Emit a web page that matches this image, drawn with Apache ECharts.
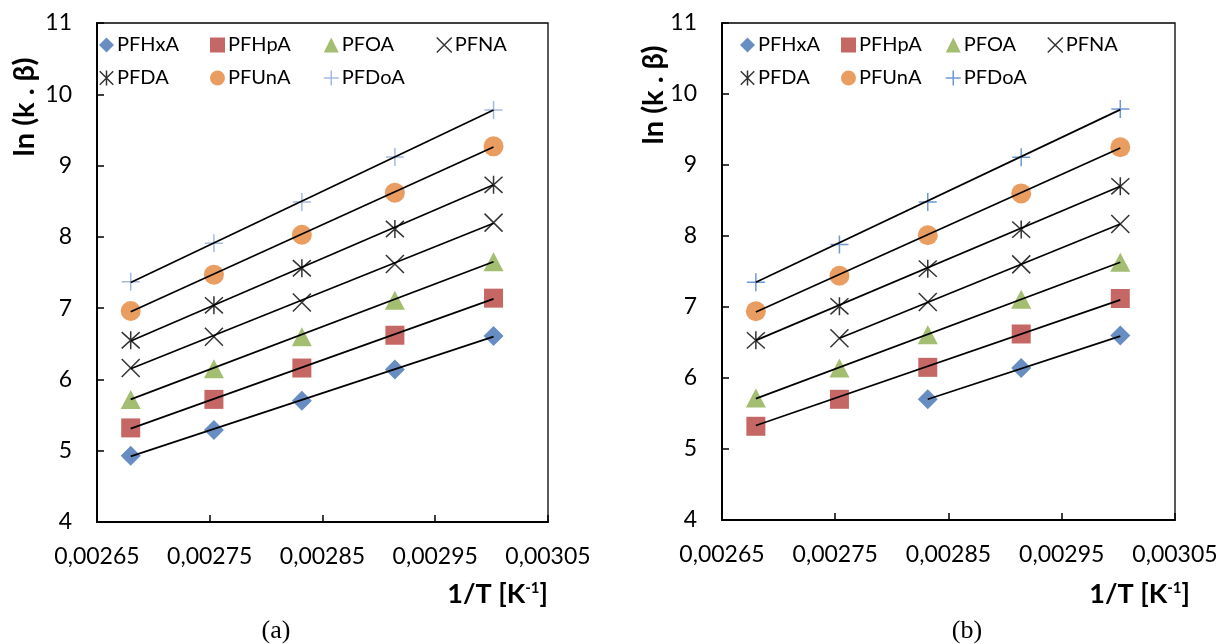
<!DOCTYPE html>
<html>
<head>
<meta charset="utf-8">
<script src="https://cdn.jsdelivr.net/npm/echarts@6/dist/echarts.min.js"></script>
<style>
    html, body { margin: 0; padding: 0; background: #fff; }
    #chart { width: 1221px; height: 644px; }
</style>
</head>
<body>
<div id="chart"></div>
<script>
    // 1/T [K-1] for 100, 90, 80, 70, 60 °C
    const invT = [0.0026799, 0.0027537, 0.0028317, 0.0029142, 0.0030017];
    const xTicks = [0.00265, 0.00275, 0.00285, 0.00295, 0.00305];
    const names = ['PFHxA', 'PFHpA', 'PFOA', 'PFNA', 'PFDA', 'PFUnA', 'PFDoA'];

    // (a) all points
    const aPFHxA = [4.93, 5.29, 5.70, 6.14, 6.61];
    const aPFHpA = [5.32, 5.72, 6.16, 6.62, 7.14];
    const aPFOA  = [5.72, 6.15, 6.60, 7.11, 7.65];
    const aPFNA  = [6.16, 6.60, 7.08, 7.62, 8.20];
    const aPFDA  = [6.55, 7.04, 7.56, 8.11, 8.73];
    const aPFUnA = [6.96, 7.47, 8.03, 8.62, 9.27];
    const aPFDoA = [7.37, 7.91, 8.49, 9.12, 9.78];
    // trend lines (a): value at first and last 1/T
    const aTrendFrom = [0, 0, 0, 0, 0, 0, 0];
    const aTrendStart = [4.92, 5.31, 5.72, 6.15, 6.54, 6.95, 7.36];
    const aTrendEnd   = [6.60, 7.13, 7.65, 8.19, 8.73, 9.26, 9.78];

    // (b) outliers removed
    const bPFHxA = [null, null, 5.70, 6.14, 6.60];
    const bPFHpA = [5.32, 5.70, 6.15, 6.62, 7.12];
    const bPFOA  = [5.72, 6.14, 6.61, 7.11, 7.63];
    const bPFNA  = [null, 6.56, 7.07, 7.60, 8.17];
    const bPFDA  = [6.53, 7.01, 7.54, 8.09, 8.70];
    const bPFUnA = [6.94, 7.44, 8.01, 8.60, 9.25];
    const bPFDoA = [7.35, 7.88, 8.48, 9.11, 9.79];
    const bTrendFrom = [2, 0, 0, 1, 0, 0, 0];
    const bTrendStart = [5.70, 5.33, 5.71, 6.56, 6.53, 6.93, 7.35];
    const bTrendEnd   = [6.59, 7.10, 7.63, 8.17, 8.70, 9.24, 9.78];

    const aValues = [aPFHxA, aPFHpA, aPFOA, aPFNA, aPFDA, aPFUnA, aPFDoA];
    const bValues = [bPFHxA, bPFHpA, bPFOA, bPFNA, bPFDA, bPFUnA, bPFDoA];

    const FONT = 'Lato';
    const X_PATH = 'path://M0,0L18,18M18,0L0,18';
    const STAR_PATH = 'path://M0,0L18,18M18,0L0,18M9,-1L9,19';
    const PLUS_PATH = 'path://M9,0L9,18M0,9L18,9';

    function markStyle (name, plusColor) {
        switch (name) {
            case 'PFHxA': return { symbol: 'diamond', size: 20, itemStyle: { color: '#4171B3' } };
            case 'PFHpA': return { symbol: 'rect', size: 19, itemStyle: { color: '#B6423F' } };
            case 'PFOA':  return { symbol: 'triangle', size: [20, 19], itemStyle: { color: '#8CAD4E' } };
            case 'PFNA':  return { symbol: X_PATH, size: 18, itemStyle: { color: 'transparent', borderColor: '#000', borderWidth: 1.5 } };
            case 'PFDA':  return { symbol: STAR_PATH, size: 18, itemStyle: { color: 'transparent', borderColor: '#000', borderWidth: 1.5 } };
            case 'PFUnA': return { symbol: 'circle', size: 20, itemStyle: { color: '#E5853A' } };
            case 'PFDoA': return { symbol: PLUS_PATH, size: 18, itemStyle: { color: 'transparent', borderColor: plusColor, borderWidth: 1.5 } };
        }
    }

    function points (vals) {
        return vals.map((v, i) => v == null ? null : [invT[i], v]).filter(p => p);
    }

    function buildSeries (idx, values, from, start, end, plusColor) {
        const out = [];
        names.forEach((n, i) => {
            const m = markStyle(n, plusColor);
            out.push({
                name: n, type: 'scatter', xAxisIndex: idx, yAxisIndex: idx,
                symbol: m.symbol, symbolSize: m.size, itemStyle: m.itemStyle,
                data: points(values[i]), z: 2
            });
        });
        names.forEach((n, i) => {
            out.push({
                name: n + ' trend', type: 'line', xAxisIndex: idx, yAxisIndex: idx,
                symbol: 'none', silent: true, z: 5,
                lineStyle: { color: '#000', width: 1.7 },
                data: [[invT[from[i]], start[i]], [invT[invT.length - 1], end[i]]]
            });
        });
        return out;
    }

    const legendCols = [['PFHxA', 'PFDA'], ['PFHpA', 'PFUnA'], ['PFOA', 'PFDoA'], ['PFNA']];

    function buildLegends (lefts, plusColor) {
        return legendCols.map((col, c) => ({
            orient: 'vertical',
            left: lefts[c],
            top: 35,
            padding: 0,
            itemGap: 13,
            itemWidth: 15,
            itemHeight: 15,
            selectedMode: false,
            textStyle: { fontFamily: FONT, fontSize: 20, color: '#000', padding: [0, 0, 0, -2] },
            data: col.map(n => {
                const m = markStyle(n, plusColor);
                return { name: n, icon: m.symbol, itemStyle: m.itemStyle };
            })
        }));
    }

    function xAxis (idx) {
        return {
            type: 'value', gridIndex: idx, min: 0.00265, max: 0.00305,
            axisLine: { onZero: false, lineStyle: { color: '#000', width: 2 } },
            axisTick: { inside: true, length: 7, customValues: xTicks, lineStyle: { color: '#000', width: 1.5 } },
            axisLabel: {
                customValues: xTicks, margin: 23,
                fontFamily: FONT, fontSize: 23, color: '#000',
                formatter: v => v.toFixed(5).replace('.', ',')
            },
            splitLine: { show: false }
        };
    }

    function yAxis (idx) {
        return {
            type: 'value', gridIndex: idx, min: 4, max: 11, interval: 1,
            axisLine: { show: true, onZero: false, lineStyle: { color: '#000', width: 2 } },
            axisTick: { show: true, inside: true, length: 7, lineStyle: { color: '#000', width: 1.5 } },
            axisLabel: { margin: 25, fontFamily: FONT, fontSize: 23, color: '#000' },
            splitLine: { show: false }
        };
    }

    function axisTexts (yx, yy, xRight, caption, capX) {
        return [
            {
                type: 'text', x: yx, y: yy, rotation: Math.PI / 2,
                style: { text: 'ln (k . β)', fontFamily: FONT, fontWeight: 'bold', fontSize: 29, fill: '#000', align: 'center', verticalAlign: 'middle' }
            },
            {
                type: 'text', x: xRight, y: 594,
                style: {
                    text: '1/T [K{sup|-1}]', fontFamily: FONT, fontWeight: 'bold', fontSize: 27, fill: '#000',
                    align: 'right', verticalAlign: 'middle',
                    rich: { sup: { fontFamily: FONT, fontWeight: 'bold', fontSize: 15, verticalAlign: 'top', fill: '#000' } }
                }
            },
            {
                type: 'text', x: capX, y: 631,
                style: { text: caption, fontFamily: 'Liberation Serif', fontSize: 26, fill: '#000', align: 'center', verticalAlign: 'middle' }
            }
        ];
    }

    const chart = echarts.init(document.getElementById('chart'));
    chart.setOption({
        animation: false,
        backgroundColor: '#fff',
        grid: [
            { left: 97, top: 23, width: 451, height: 499, show: true, borderColor: '#000', borderWidth: 1.3 },
            { left: 722, top: 23, width: 453, height: 497, show: true, borderColor: '#000', borderWidth: 1.3 }
        ],
        xAxis: [xAxis(0), xAxis(1)],
        yAxis: [yAxis(0), yAxis(1)],
        legend: buildLegends([99, 210, 323, 436], '#8EA8D8').concat(buildLegends([740, 841, 945, 1047], '#4A7EC8')),
        series: buildSeries(0, aValues, aTrendFrom, aTrendStart, aTrendEnd, '#8EA8D8')
            .concat(buildSeries(1, bValues, bTrendFrom, bTrendStart, bTrendEnd, '#4A7EC8')),
        graphic: axisTexts(25, 107, 548, '(a)', 276).concat(axisTexts(654, 95, 1190, '(b)', 967))
    });
</script>
</body>
</html>
